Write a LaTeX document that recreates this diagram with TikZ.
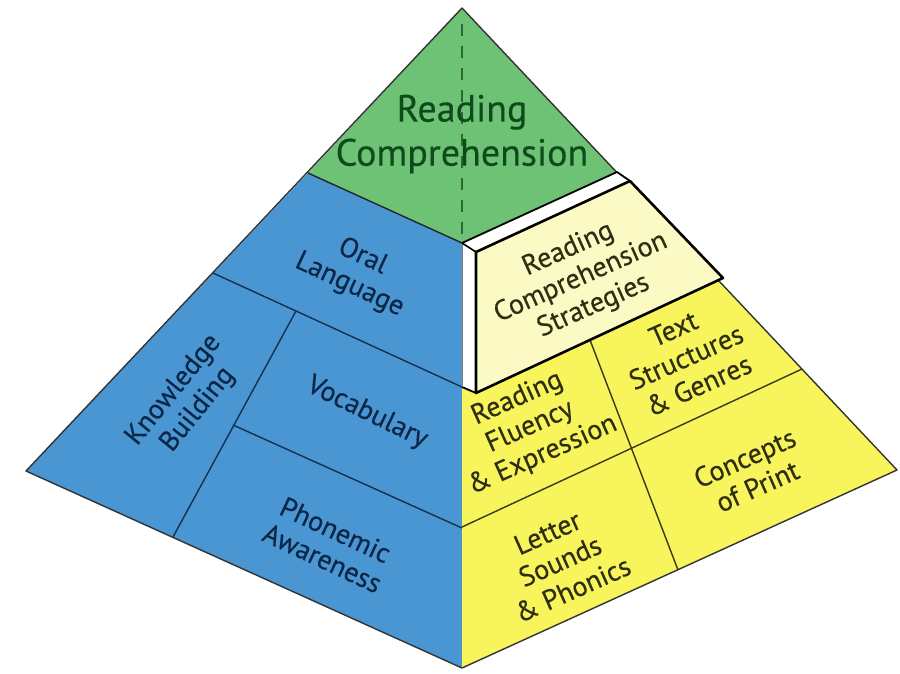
\documentclass[tikz,border=0pt]{standalone}
\usepackage{fontspec}
\setmainfont{PT Sans}[FakeBold=0.35]
\begin{document}
\begin{tikzpicture}[x=1pt,y=-1pt,
  lbl/.style={align=center, font=\fontsize{28}{31}\selectfont, inner sep=0pt},
  edge/.style={line width=1.4pt, line join=round},
]
\definecolor{pgreen}{HTML}{6DC276}
\definecolor{pblue}{HTML}{4A96D3}
\definecolor{pyellow}{HTML}{F7F45C}
\definecolor{ppale}{HTML}{FBF9C4}
\definecolor{tgreen}{HTML}{0F4A1C}
\definecolor{tblue}{HTML}{0C2646}
\definecolor{tyellow}{HTML}{2E2E12}
\definecolor{dgreen}{HTML}{2C6A30}
\definecolor{lblue}{HTML}{15304F}
\definecolor{lyel}{HTML}{3A3A1A}

\useasboundingbox (0,0) rectangle (900,673);

% main points
\coordinate (A) at (462,8);
\coordinate (L) at (26,471);
\coordinate (B) at (462,668);
\coordinate (R) at (897,470);
\coordinate (GL) at (308,173);
\coordinate (GC) at (462,243);
\coordinate (GR) at (617,172);
% left face
\coordinate (O1) at (213,273);
\coordinate (O2) at (462,387);
\coordinate (K1) at (296,311);
\coordinate (K2) at (173,537);
\coordinate (V1) at (233,425);
\coordinate (V2) at (462,528);
% box
\coordinate (F1) at (476,252);
\coordinate (F2) at (630,181);
\coordinate (F3) at (723,278);
\coordinate (F4) at (476,393);
\coordinate (S4) at (462,387);
% right face
\coordinate (T1) at (590,340);
\coordinate (T2) at (678,570);
\coordinate (H1) at (462,527);
\coordinate (H2) at (802,369);

% fills
\fill[pgreen] (A) -- (GL) -- (GC) -- (GR) -- cycle;
\fill[pblue] (GL) -- (L) -- (B) -- (GC) -- cycle;
\fill[pyellow] (GC) -- (B) -- (R) -- (GR) -- cycle;

% internal lines
\draw[edge, color=lblue] (O1) -- (O2);
\draw[edge, color=lblue] (K1) -- (K2);
\draw[edge, color=lblue] (V1) -- (V2);
\draw[edge, color=lyel] (T1) -- (T2);
\draw[edge, color=lyel] (H1) -- (H2);

% outline
\draw[edge, color=black!80] (A) -- (L) -- (B) -- (R) -- cycle;
\draw[edge, color=black!85] (GL) -- (GC);

% raised box
\fill[white] (GC) -- (GR) -- (F2) -- (F1) -- cycle;
\fill[white] (GC) -- (F1) -- (F4) -- (S4) -- cycle;
\fill[ppale] (F1) -- (F2) -- (F3) -- (F4) -- cycle;
\draw[line width=1.8pt, line join=round] (GC) -- (GR) -- (F2);
\draw[line width=1.8pt] (S4) -- (F4);
\draw[line width=0.6pt, color=gray] (GC) -- (S4);
\draw[line width=2.6pt, line join=round] (F1) -- (F2) -- (F3) -- (F4) -- cycle;
\draw[line width=1.6pt] (GC) -- (F1);

% dashed axis
\draw[line width=2.2pt, color=dgreen, dash pattern=on 12pt off 10pt] (462,24) -- (GC);

% labels
\node[lbl, font=\fontsize{38}{44}\selectfont, text=tgreen] (rc) at (462,134) {Reading\\Comprehension};
\node[lbl, text=tblue, rotate=-25] (oral) at (356,271) {Oral\\Language};
\node[lbl, text=tblue, rotate=51] (know) at (186,400) {Knowledge\\Building};
\node[lbl, text=tblue, rotate=-26] (voc) at (367,413) {Vocabulary};
\node[lbl, text=tblue, rotate=-25] (phon) at (329,544) {Phonemic\\Awareness};
\node[lbl, text=tyellow, rotate=24] (rcs) at (581,278) {Reading\\Comprehension\\Strategies};
\node[lbl, text=tyellow, rotate=24] (tsg) at (686,357) {Text\\Structures\\\& Genres};
\node[lbl, text=tyellow, rotate=24] (rfe) at (530,427) {Reading\\Fluency\\\& Expression};
\node[lbl, text=tyellow, rotate=24] (cop) at (751,472) {Concepts\\of Print};
\node[lbl, text=tyellow, rotate=24] (lsp) at (560,561) {Letter\\Sounds\\\& Phonics};
\end{tikzpicture}
\end{document}
